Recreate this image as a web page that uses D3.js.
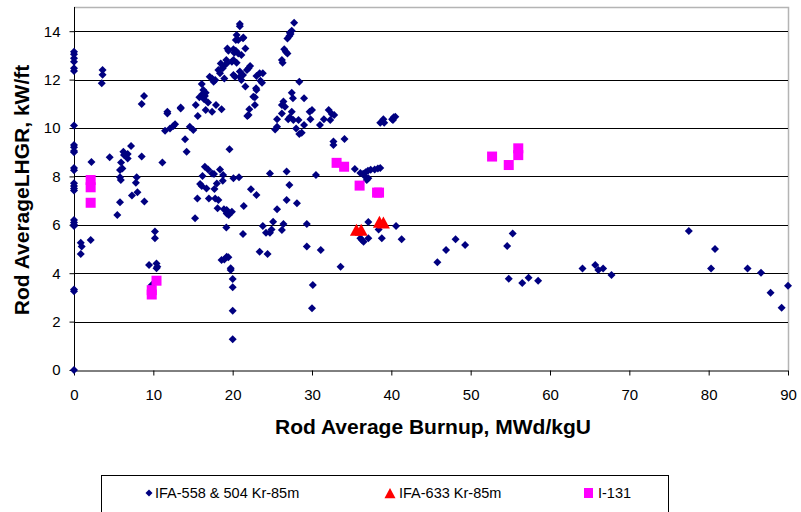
<!DOCTYPE html>
<html><head><meta charset="utf-8">
<script src="https://cdn.jsdelivr.net/npm/d3@7"></script>
<style>body{margin:0;background:#fff}svg{display:block}</style>
</head><body><svg id="c" width="801" height="512"></svg>
<script>
const xTicks = [0,10,20,30,40,50,60,70,80,90];
const yTicks = [0,2,4,6,8,10,12,14];
const seriesNames = ["IFA-558 & 504 Kr-85m","IFA-633 Kr-85m","I-131"];
const xTitle = "Rod Average Burnup, MWd/kgU";
const yTitle = "Rod AverageLHGR, kW/ft";

const ifa558 = [
[0,13.15],[0,13.05],[0,12.88],[0,12.74],[0,12.47],[0,12.36],[0,10.1],[0,9.3],[0,9.2],[0,9.05],[0,9.0],[0,8.35],[0,8.25],[0,7.72],[0,7.6],[0,7.5],[0,7.42],[0,6.2],[0,6.1],[0,6.0],[0,5.95],[0,3.33],[0,3.25],[0,0],
[0.85,5.26],[0.97,5.1],[0.85,4.79],[2.1,5.37],[2.2,8.6],[3.6,12.4],[3.6,12.2],[3.5,11.85],[4.5,8.79],
[5.8,8.26],[5.8,7.96],[5.9,7.85],[5.93,8.57],[6.1,8.33],[6.22,9.02],[6.3,8.88],[6.77,8.93],[6.77,8.74],[7.19,9.26],[5.8,6.93],[5.46,6.4],[7.9,7.96],[7.8,7.74],[8.0,7.34],[7.3,7.21],[8.87,6.96],[8.53,8.82],[8.53,10.99],[8.83,11.32],
[10.2,5.72],[10.2,5.44],[9.46,4.34],[10.4,4.4],[10.5,4.27],[10.4,4.2],[9.8,3.51],
[11.14,8.57],[11.48,9.89],[11.77,10.6],[11.77,10.67],[12.1,9.98],[12.52,10.08],[12.74,10.15],[13.45,10.85],[13.45,10.81],[14.0,9.53],[14.2,9.02],[14.6,10.05],[15.04,9.92],[15.35,10.95],[15.6,10.5],[15.8,11.27],
[16.1,11.82],[16.3,11.57],[16.2,11.4],[16.5,11.32],[16.6,11.46],[16.4,11.19],[16.9,11.05],[16.6,10.74],
[17.1,12.12],[17.4,12.05],[17.6,11.91],[17.8,11.98],[17.4,10.67],[17.9,10.95],[18.6,10.77],
[18.2,12.4],[18.4,12.26],[18.75,12.47],[18.5,12.67],[18.8,12.53],[19.2,12.81],[19.25,12.67],[18.95,12.05],
[19.33,13.29],[19.46,13.19],[20.1,13.25],[20.2,13.11],[20.4,13.19],
[19.9,12.74],[20.1,12.81],[20.5,12.7],[20.7,13.08],[21.1,13.02],
[20.5,13.84],[20.7,13.64],[20.4,13.64],[21.3,13.71],[21.35,13.74],[20.9,14.3],[20.9,14.2],[21.6,13.29],
[20.1,12.19],[20.3,12.12],[20.9,12.33],[20.9,12.12],[21.1,11.98],[21.3,12.19],[21.6,11.71],
[22.0,12.47],[22.2,12.56],[21.8,12.4],[22.1,10.77],[21.85,10.5],[22.0,10.54],[22.8,10.95],
[22.6,11.29],[22.8,11.27],[23.0,11.57],[22.95,11.64],[23.0,12.15],[23.4,12.26],[23.8,12.26],[23.5,11.95],[23.7,11.87],
[19.6,9.12],
[16.5,8.4],[16.9,8.29],[17.4,8.12],[17.65,8.1],[18.4,8.29],[18.8,8.06],[18.75,7.82],[20.1,7.92],[20.8,7.96],[16.2,8.02],[15.9,7.69],[16.1,7.6],[16.7,7.5],[17.7,7.48],[18.0,7.71],
[15.55,7.09],[17.0,7.09],[17.8,7.09],[18.2,7.02],[18.1,6.68],[18.9,6.64],[19.25,6.47],[19.5,6.4],[19.9,6.54],[19.25,6.61],[21.4,6.78],[22.3,7.47],[23.0,7.23],[19.2,5.89],[21.3,5.62],[23.4,4.89],[15.26,6.27],
[18.6,4.55],[18.95,4.57],[19.25,4.68],[19.46,4.66],[19.75,4.2],[19.75,4.13],[20.0,3.76],[20.0,3.42],[20.0,2.45],[20.0,1.27],
[24.7,8.12],[26.8,8.2],[27.15,7.64],[30.5,8.06],[25.6,6.64],[26.8,7.02],[28.1,6.89],[23.8,5.95],[24.2,5.67],[24.7,5.67],[24.9,5.81],[25.1,6.13],[26.2,5.78],[26.4,6.03],[29.35,6.03],[29.35,5.1],[31.1,4.96],[33.6,4.27],[30.1,3.51],[30.0,2.55],[24.4,4.79],
[26.2,12.81],[26.3,12.7],[26.5,13.25],[26.7,13.15],[26.9,13.08],[26.9,13.7],[27.15,13.8],[27.2,13.94],[27.45,14.02],[27.3,13.88],[27.75,14.35],[28.4,11.91],
[27.45,11.46],[27.6,11.23],[26.4,11.09],[26.2,10.95],[26.6,10.88],[26.2,10.6],[25.6,10.36],[25.6,10.05],[25.35,9.94],[27.0,10.36],[27.2,10.44],[27.45,10.67],[27.65,10.33],[28.3,10.33],[28.0,9.98],[28.4,9.75],[28.7,9.8],[29.0,10.12],[29.0,11.23],[29.7,10.67],[30.0,10.74],[29.8,10.36],[31.0,10.12],[31.5,10.36],[32.1,10.74],[32.5,10.58],[32.8,10.54],[32.3,10.33],[32.7,9.44],[32.7,9.3],[34.1,9.55],
[38.6,10.22],[39.0,10.36],[39.1,10.22],[40.1,10.36],[40.3,10.44],[40.5,10.47],[40.2,10.33],
[35.4,8.31],[36.1,8.14],[36.45,8.11],[36.75,8.17],[37.05,8.23],[36.7,8.0],[37.1,7.92],[36.9,7.85],[37.4,8.27],[37.9,8.29],[38.3,8.33],[38.6,8.35],
[37.1,6.12],[40.6,5.95],[36.1,5.44],[36.3,5.37],[36.5,5.3],[37.1,5.44],[38.4,5.81],[38.8,5.44],[41.3,5.4],
[45.8,4.45],[46.9,4.96],[48.1,5.4],[49.3,5.17],[54.6,5.12],[55.3,5.64],[54.8,3.77],[56.5,3.6],[57.3,3.81],[58.5,3.69],[64.1,4.19],[65.7,4.34],[66.1,4.13],[66.7,4.19],[67.75,3.93],[77.5,5.74],[80.8,5.0],[80.3,4.19],[84.9,4.19],[86.6,4.02],[87.8,3.19],[89.2,2.57],[90.0,3.48]
];
const ifa633 = [[35.6,5.75],[36.2,5.75],[38.5,6.08],[39.0,6.05]];
const i131 = [[2.1,7.85],[2.1,7.55],[2.1,6.91],[9.8,3.3],[9.8,3.12],[10.4,3.69],[33.1,8.56],[34.05,8.4],[36.0,7.62],[38.2,7.33],[38.45,7.33],[52.7,8.82],[54.8,8.47],[56.0,9.16],[56.0,8.88]];

const svg = d3.select("#c");
const font = "Liberation Sans, Arial, sans-serif";
const x = d3.scaleLinear().domain([0,90]).range([74,788]);
const y = d3.scaleLinear().domain([0,15]).range([370,7]);

// plot border (gray top/right)
svg.append("path").attr("d",`M${x(0)},${y(15)+0.5}H${x(90)+0.5}V${y(0)}`)
  .attr("fill","none").attr("stroke","#b4b4b4").attr("stroke-width",1.5);

// gridlines
svg.append("g").selectAll("line").data(yTicks.filter(d=>d>0)).join("line")
  .attr("x1",x(0)).attr("x2",x(90))
  .attr("y1",d=>Math.round(y(d))+0.5).attr("y2",d=>Math.round(y(d))+0.5)
  .attr("stroke","#000").attr("stroke-width",1);

// axes
const xAxis = d3.axisBottom(x).tickValues(xTicks).tickSize(5).tickSizeOuter(0);
const gx = svg.append("g").attr("transform",`translate(0,${Math.round(y(0))+0.5})`).call(xAxis);
gx.selectAll("text").attr("font-family",font).attr("font-size",15).attr("fill","#000").attr("dy","1.4em");
gx.selectAll("line,path").attr("stroke","#000");

const yAxis = d3.axisLeft(y).tickValues(yTicks).tickSize(5).tickSizeOuter(0);
const gy = svg.append("g").attr("transform",`translate(${Math.round(x(0))+0.5},0)`).call(yAxis);
gy.select(".domain").attr("d",`M0,${y(0)}V${y(15)}`);
gy.selectAll("text").attr("font-family",font).attr("font-size",15).attr("fill","#000").attr("x",-14);
gy.selectAll("line,path").attr("stroke","#000");

// axis titles
svg.append("text").attr("x",433).attr("y",434).attr("text-anchor","middle")
  .attr("font-family",font).attr("font-weight","bold").attr("font-size",21).text(xTitle);
svg.append("text").attr("transform","translate(29,190) rotate(-90)").attr("text-anchor","middle")
  .attr("font-family",font).attr("font-weight","bold").attr("font-size",21).text(yTitle);

const diamond = s => `M0,${-s}L${s},0L0,${s}L${-s},0Z`;
const tri = "M0,-7L6.5,5L-6.5,5Z";

svg.append("g").selectAll("path").data(ifa558).join("path")
  .attr("transform",d=>`translate(${x(d[0])},${y(d[1])})`)
  .attr("d",diamond(4)).attr("fill","#000080");
svg.append("g").selectAll("path").data(ifa633).join("path")
  .attr("transform",d=>`translate(${x(d[0])},${y(d[1])})`)
  .attr("d",tri).attr("fill","#ff0000");
svg.append("g").selectAll("rect").data(i131).join("rect")
  .attr("x",d=>x(d[0])-5).attr("y",d=>y(d[1])-5).attr("width",10).attr("height",10)
  .attr("fill","#ff00ff");

// legend
const lg = svg.append("g");
lg.append("rect").attr("x",101.5).attr("y",475.5).attr("width",567).attr("height",40)
  .attr("fill","#fff").attr("stroke","#000");
const ly = 493;
lg.append("path").attr("transform",`translate(149,${ly})`).attr("d",diamond(3.5)).attr("fill","#000080");
lg.append("path").attr("transform",`translate(390,${ly+1}) scale(0.85)`).attr("d",tri).attr("fill","#ff0000");
lg.append("rect").attr("x",584).attr("y",ly-5).attr("width",9).attr("height",10).attr("fill","#ff00ff");
const lx = [155,399,598];
lg.selectAll("text").data(seriesNames).join("text")
  .attr("x",(d,i)=>lx[i]).attr("y",ly+5).attr("font-family",font).attr("font-size",14.5).text(d=>d);
</script></body></html>
